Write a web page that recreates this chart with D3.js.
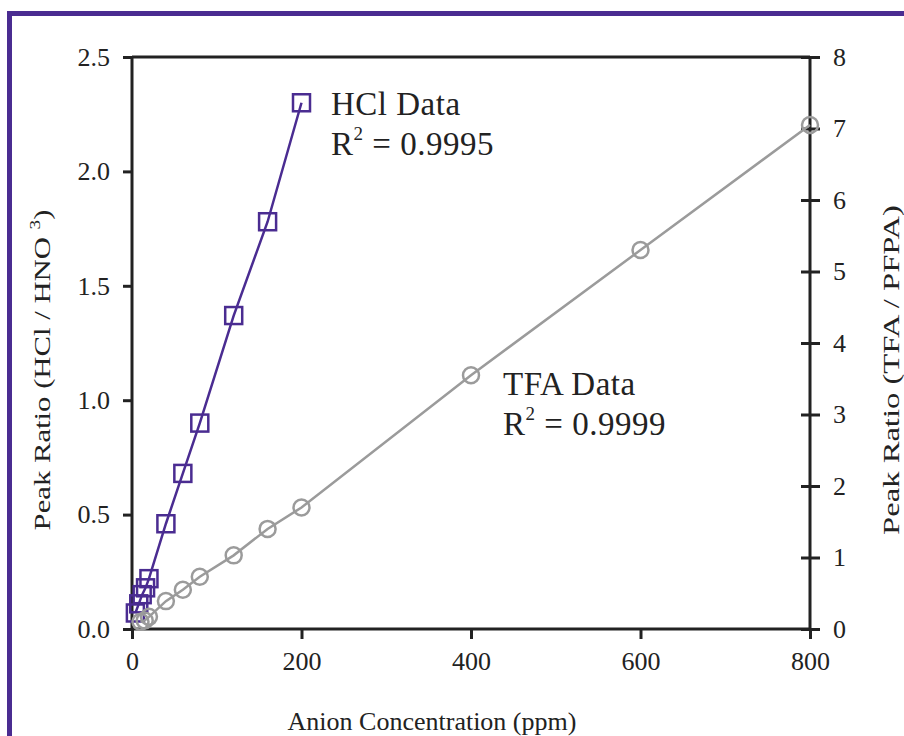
<!DOCTYPE html>
<html lang="en">
<head>
<script src="https://d3js.org/d3.v7.min.js"></script>
<style>
  body { margin: 0; background: #fff; }
  text { font-family: "Liberation Serif", "Times New Roman", serif; fill: #222; }
</style>
</head>
<body>
<script>
var width = 904, height = 736;

// data
var hclX = [4, 8, 12, 16, 20, 40, 60, 80, 120, 160, 200];
var hclY = [0.07, 0.11, 0.15, 0.18, 0.22, 0.46, 0.68, 0.90, 1.37, 1.78, 2.30];
var tfaX = [10, 15, 20, 40, 60, 80, 120, 160, 200, 400, 600, 800];
var tfaY = [0.10, 0.12, 0.17, 0.39, 0.55, 0.73, 1.03, 1.40, 1.70, 3.55, 5.30, 7.05];
var xTicks = [0, 200, 400, 600, 800];
var leftTicks = [0, 0.5, 1.0, 1.5, 2.0, 2.5];
var rightTicks = [0, 1, 2, 3, 4, 5, 6, 7, 8];

var purple = '#4a2c91', grey = '#9b9b9b', ink = '#222';

var svg = d3.select('body').append('svg')
  .attr('width', width).attr('height', height);

// purple frame (runs off the right and bottom edge)
svg.append('rect')
  .attr('x', 9.5).attr('y', 13.5)
  .attr('width', 1000).attr('height', 1000)
  .attr('fill', 'none').attr('stroke', purple).attr('stroke-width', 5);

var x = d3.scaleLinear().domain([0, 800]).range([132, 810]);
var yL = d3.scaleLinear().domain([0, 2.5]).range([629, 57]);
var yR = d3.scaleLinear().domain([0, 8]).range([629, 57]);

// x axis
var gx = svg.append('g').attr('transform', 'translate(0,629)')
  .call(d3.axisBottom(x).tickValues(xTicks).tickSize(10).tickPadding(13).tickFormat(d3.format('d')));
// left axis
var gl = svg.append('g').attr('transform', 'translate(132,0)')
  .call(d3.axisLeft(yL).tickValues(leftTicks).tickSize(9).tickPadding(13).tickFormat(d3.format('.1f')));
// right axis, ticks cross the line
var gr = svg.append('g').attr('transform', 'translate(810,0)')
  .call(d3.axisRight(yR).tickValues(rightTicks).tickSize(10).tickPadding(13).tickFormat(d3.format('d')));
gr.selectAll('.tick line').attr('x1', -9);

[gx, gl, gr].forEach(function(g) {
  g.select('.domain').remove();
  g.selectAll('.tick line').attr('stroke', ink).attr('stroke-width', 3);
  g.selectAll('.tick text').attr('font-size', 26).attr('fill', ink)
    .style('font-family', '"Liberation Serif", serif');
});

// frame lines of the plot
svg.append('g').attr('stroke', ink).attr('stroke-width', 3).attr('fill', 'none')
  .selectAll('line')
  .data([[132, 629, 810, 629], [132, 57, 810, 57], [132, 57, 132, 629], [810, 57, 810, 629]])
  .join('line')
  .attr('x1', function(d) { return d[0]; }).attr('y1', function(d) { return d[1]; })
  .attr('x2', function(d) { return d[2]; }).attr('y2', function(d) { return d[3]; });

// HCl series
var hcl = hclX.map(function(v, i) { return [v, hclY[i]]; });
svg.append('path').datum(hcl)
  .attr('fill', 'none').attr('stroke', purple).attr('stroke-width', 2.5)
  .attr('d', d3.line().x(function(d) { return x(d[0]); }).y(function(d) { return yL(d[1]); }));
svg.append('g').selectAll('rect').data(hcl).join('rect')
  .attr('x', function(d) { return x(d[0]) - 8.5; })
  .attr('y', function(d) { return yL(d[1]) - 8.5; })
  .attr('width', 17).attr('height', 17)
  .attr('fill', 'none').attr('stroke', purple).attr('stroke-width', 2.5);

// TFA series
var tfa = tfaX.map(function(v, i) { return [v, tfaY[i]]; });
svg.append('path').datum(tfa)
  .attr('fill', 'none').attr('stroke', grey).attr('stroke-width', 2.5)
  .attr('d', d3.line().x(function(d) { return x(d[0]); }).y(function(d) { return yR(d[1]); }));
svg.append('g').selectAll('circle').data(tfa).join('circle')
  .attr('cx', function(d) { return x(d[0]); })
  .attr('cy', function(d) { return yR(d[1]); })
  .attr('r', 8)
  .attr('fill', 'none').attr('stroke', grey).attr('stroke-width', 2.5);

// annotations
function label(xp, yp, name, r2) {
  svg.append('text').attr('x', xp).attr('y', yp).attr('font-size', 33)
    .attr('letter-spacing', 0.5).text(name);
  var t = svg.append('text').attr('x', xp).attr('y', yp + 40).attr('font-size', 33)
    .attr('letter-spacing', 0.5);
  t.append('tspan').text('R');
  t.append('tspan').attr('font-size', 19).attr('dy', -15).text('2');
  t.append('tspan').attr('dy', 15).text(' = ' + r2);
}
label(331, 115, 'HCl Data', '0.9995');
label(503, 395, 'TFA Data', '0.9999');

// axis titles
svg.append('text').attr('x', 432).attr('y', 730).attr('text-anchor', 'middle')
  .attr('font-size', 26).text('Anion Concentration (ppm)');

var lt = svg.append('text').attr('transform', 'translate(50,370) rotate(-90) scale(1.28,1)')
  .attr('text-anchor', 'middle').attr('font-size', 24);
lt.append('tspan').text('Peak Ratio (HCl / HNO ');
lt.append('tspan').attr('font-size', 15).attr('dy', -10).text('3');
lt.append('tspan').attr('dy', 10).text(')');

svg.append('text').attr('transform', 'translate(899,370) rotate(-90) scale(1.36,1)')
  .attr('text-anchor', 'middle').attr('font-size', 24).text('Peak Ratio (TFA / PFPA)');
</script>
</body>
</html>
